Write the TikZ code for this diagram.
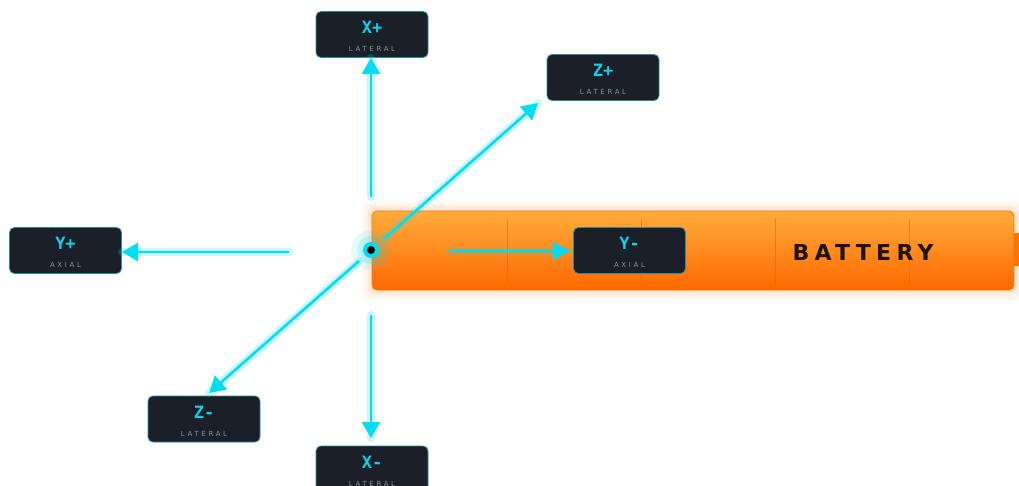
\documentclass[tikz,border=0pt]{standalone}
\usepackage{fontspec}
\setmainfont{DejaVu Sans}
\newfontfamily\labfont{DejaVu Sans Mono Bold}
\newfontfamily\subfont{DejaVu Sans}[LetterSpace=38]
\newfontfamily\batfont{DejaVu Sans Bold}[LetterSpace=24]
\usetikzlibrary{arrows.meta}
\definecolor{boxfill}{HTML}{1B1F28}
\definecolor{boxline}{HTML}{2B8C9C}
\definecolor{cyanA}{HTML}{00DDF5}
\definecolor{cyanT}{HTML}{12D0EC}
\definecolor{subgray}{HTML}{8A8F9C}
\definecolor{batTop}{HTML}{FFAC3C}
\definecolor{batMid}{HTML}{FF9A04}
\definecolor{batBot}{HTML}{FF6800}
\definecolor{batLine}{HTML}{FF7400}
\definecolor{batDiv}{HTML}{D86A10}
\definecolor{batText}{HTML}{1E130A}
\tikzset{
  axisbox/.style={draw=boxline, line width=0.8pt, fill=boxfill, rounded corners=5pt,
    minimum width=112pt, minimum height=46pt, inner sep=0pt, align=center},
  axglow/.style={draw=cyanA, line width=8pt, opacity=0.22, line cap=round},
  axarrow/.style={draw=cyanA, line width=2.6pt, -{Triangle[length=16pt 0,width=18pt 0]}},
}
\newcommand{\axlab}[2]{{\rule{0pt}{16.5pt}\labfont\fontsize{17}{17}\selectfont\color{cyanT}#1}\\[5.5pt]{\subfont\fontsize{7}{7}\selectfont\color{subgray}#2}}
\begin{document}
\begin{tikzpicture}[x=1pt,y=-1pt]
\useasboundingbox (0,0) rectangle (1019,486);
% battery glow
\foreach \d/\o in {10/0.04,7/0.06,4/0.08}{
  \fill[batLine, opacity=\o, rounded corners=6pt] (372-\d,211-\d) rectangle (1014+\d,290+\d);
}
% battery body
\shade[rounded corners=5pt, top color=batTop, middle color=batMid, bottom color=batBot]
  (372,211) rectangle (1014,290);
\draw[batLine, line width=0.8pt, rounded corners=5pt] (372,211) rectangle (1014,290);
\fill[batLine] (1014,233) rectangle (1019,266);
\foreach \x in {507,641,775,909}{
  \draw[batDiv, opacity=0.6, line width=0.7pt] (\x,219) -- (\x,284);
}
\node (bat) at (863,252) {\batfont\fontsize{22}{22}\selectfont\color{batText}BATTERY};
% label boxes
\node[axisbox] (xp) at (372,34.5) {\axlab{X+}{LATERAL}};
\node[axisbox] (zp) at (603,77.5) {\axlab{Z+}{LATERAL}};
\node[axisbox] (yp) at (65.5,250.5) {\axlab{Y+}{AXIAL}};
\node[axisbox] (ym) at (629.5,250.5) {\axlab{Y-}{AXIAL}};
\node[axisbox] (zm) at (204,419) {\axlab{Z-}{LATERAL}};
\node[axisbox] (xm) at (372,469) {\axlab{X-}{LATERAL}};
% center and start/end coordinates
\coordinate (o) at (371,250);
\coordinate (sxp) at (371,197);
\coordinate (exp) at (371,58);
\coordinate (szp) at (384,239);
\coordinate (ezp) at (538,103);
\coordinate (syp) at (289,252);
\coordinate (eyp) at (122,252);
\coordinate (sym) at (450,251);
\coordinate (eym) at (569,251);
\coordinate (szm) at (359,261);
\coordinate (ezm) at (209,393);
\coordinate (sxm) at (371,315);
\coordinate (exm) at (371,438);
% glows
\foreach \s/\e in {sxp/exp,szp/ezp,syp/eyp,sym/eym,szm/ezm,sxm/exm}{
  \path[axglow] (\s) -- (\e);
}
% arrows
\foreach \s/\e in {sxp/exp,szp/ezp,syp/eyp,sym/eym,szm/ezm,sxm/exm}{
  \path[axarrow] (\s) -- (\e);
}
% center dot
\fill[cyanA, opacity=0.10] (o) circle (20pt);
\fill[cyanA, opacity=0.18] (o) circle (14pt);
\fill[cyanA] (o) circle (8pt);
\fill[black] (o) circle (4pt);
\end{tikzpicture}
\end{document}
